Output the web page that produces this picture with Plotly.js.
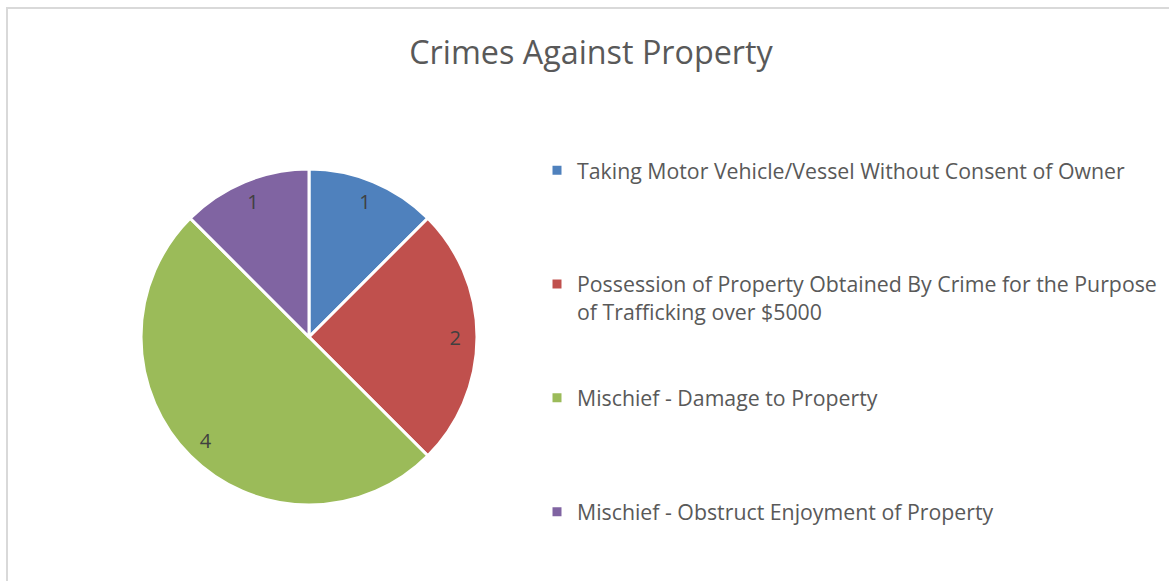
<!DOCTYPE html>
<html>
<head>
<meta charset="utf-8">
<script src="https://cdn.plot.ly/plotly-3.0.1.min.js"></script>
<style>html,body{margin:0;padding:0;background:#fff;}#chart{width:1169px;height:581px;}</style>
</head>
<body>
<div id="chart"></div>
<script>
var categories = [
  "Taking Motor Vehicle/Vessel Without Consent of Owner",
  "Possession of Property Obtained By Crime for the Purpose<br>of Trafficking over $5000",
  "Mischief - Damage to Property",
  "Mischief - Obstruct Enjoyment of Property"
];
var counts = [1, 2, 4, 1];
var colors = ["#4F81BD", "#C0504D", "#9BBB59", "#8064A2"];
var chartTitle = "Crimes Against Property";

// pad legend labels so entries are evenly spaced like the reference
var legendLabels = categories.map(function(c, i){
  if (i === categories.length - 1) return c;
  var n = c.split("<br>").length;
  var s = c;
  for (var k = n; k < 4; k++) s += "<br> ";
  return s;
});

var W = 1169, H = 581;
var cx = 309, cy = 337, R = 168;
var dom = {x: [(cx - R) / W, (cx + R) / W], y: [(H - cy - R) / H, (H - cy + R) / H]};

var data = [{
  type: "pie",
  labels: legendLabels,
  values: counts,
  sort: false,
  direction: "clockwise",
  rotation: 0,
  marker: {colors: colors, line: {color: "#ffffff", width: 3}},
  textinfo: "none",
  hoverinfo: "none",
  domain: dom
}, {
  // transparent overlay ring that only carries the value labels, placed near the rim
  type: "pie",
  labels: legendLabels,
  values: counts,
  sort: false,
  direction: "clockwise",
  rotation: 0,
  hole: 0.74,
  showlegend: false,
  marker: {colors: ["rgba(0,0,0,0)", "rgba(0,0,0,0)", "rgba(0,0,0,0)", "rgba(0,0,0,0)"], line: {width: 0}},
  textinfo: "value",
  textposition: "inside",
  insidetextorientation: "horizontal",
  textfont: {family: "Open Sans, sans-serif", size: 20, color: "#404040"},
  hoverinfo: "none",
  domain: dom
}];

var layout = {
  width: W, height: H,
  margin: {l: 0, r: 0, t: 0, b: 0},
  paper_bgcolor: "#ffffff",
  title: {
    text: chartTitle,
    font: {family: "Open Sans, sans-serif", size: 32.3, color: "#595959"},
    x: 591 / W, xanchor: "center",
    y: 1 - 53 / H, yanchor: "middle"
  },
  showlegend: true,
  legend: {
    x: 537 / W, xanchor: "left",
    y: 1 - 150 / H, yanchor: "top",
    valign: "top",
    font: {family: "Open Sans, sans-serif", size: 21.3, color: "#595959"},
    bgcolor: "rgba(0,0,0,0)",
    traceorder: "normal"
  },
  shapes: [{
    type: "rect", xref: "paper", yref: "paper",
    x0: 7 / W, x1: 1.02, y0: -0.02, y1: 1 - 8 / H,
    line: {color: "#d9d9d9", width: 2},
    fillcolor: "rgba(0,0,0,0)"
  }]
};

Plotly.newPlot("chart", data, layout, {staticPlot: true, displayModeBar: false});
</script>
</body>
</html>
